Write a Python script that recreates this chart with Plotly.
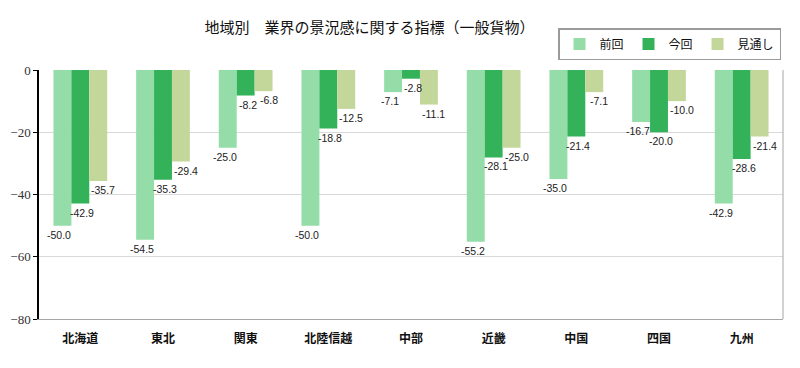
import plotly.graph_objects as go

regions = ["北海道", "東北", "関東", "北陸信越", "中部", "近畿", "中国", "四国", "九州"]
prev_vals = [-50.0, -54.5, -25.0, -50.0, -7.1, -55.2, -35.0, -16.7, -42.9]
curr_vals = [-42.9, -35.3, -8.2, -18.8, -2.8, -28.1, -21.4, -20.0, -28.6]
outlook_vals = [-35.7, -29.4, -6.8, -12.5, -11.1, -25.0, -7.1, -10.0, -21.4]
series_names = ["前回", "今回", "見通し"]
colors = ["#94DDA9", "#33B25A", "#C4D79B"]
y_ticks = [0, -20, -40, -60, -80]

series = [prev_vals, curr_vals, outlook_vals]

# page body has an 8px margin; work in page coordinates and subtract it
OFF = 8
W, H = 800 - OFF, 368 - OFF
L, T = 39 - OFF, 70 - OFF
R = W - (783 - OFF)
B = H - (319 - OFF)
plot_w = W - L - R
plot_h = H - T - B
cat_w = plot_w / len(regions)
bargap = 0.35
bar_w = cat_w * (1 - bargap) / 3

fig = go.Figure()
for name, vals, col in zip(series_names, series, colors):
    fig.add_trace(go.Bar(x=regions, y=vals, name=name, marker=dict(color=col, line=dict(width=0)),
                         hoverinfo="skip"))

label_font = dict(family="Liberation Sans, Arial, sans-serif", size=10.5, color="#222222")
extra_shift = [-3, 2, 5]
annotations = []
for si, vals in enumerate(series):
    for r, v in zip(regions, vals):
        annotations.append(dict(
            x=r, y=v, xref="x", yref="y", text=f"{v:.1f}", showarrow=False,
            xanchor="center", yanchor="top",
            xshift=(si - 1) * bar_w + extra_shift[si], yshift=-1,
            font=label_font))

fig.update_layout(
    width=W, height=H,
    margin=dict(l=L, r=R, t=T, b=B, pad=0, autoexpand=False),
    paper_bgcolor="white", plot_bgcolor="white",
    barmode="group", bargap=bargap, bargroupgap=0,
    title=dict(text="地域別\u3000業界の景況感に関する指標（一般貨物）",
               font=dict(family="Noto Sans CJK JP", size=15, color="#111111"),
               x=(369.5 - OFF) / W, xanchor="center", xref="container",
               y=1 - (27.5 - OFF) / H, yanchor="middle", yref="container"),
    legend=dict(orientation="h", x=(781 - 39) / plot_w, xanchor="right",
                y=(319 - 28) / plot_h, yanchor="top",
                bordercolor="#9a9a9a", borderwidth=1.5, bgcolor="white",
                font=dict(family="Noto Sans CJK JP", size=12, color="#111111"),
                itemwidth=30, traceorder="normal"),
    xaxis=dict(type="category", categoryorder="array", categoryarray=regions,
               range=[-0.5, len(regions) - 0.5],
               showgrid=False, showline=True, linecolor="#a6a6a6", linewidth=1,
               ticks="", ticklabelstandoff=9,
               tickfont=dict(family="Noto Sans CJK JP", size=12, color="#111111", weight="bold")),
    xaxis2=dict(overlaying="x", side="top", anchor="y", range=[-0.5, len(regions) - 0.5],
                tickvals=[i + 0.5 for i in range(len(regions) - 1)],
                ticks="inside", ticklen=4, tickcolor="#a6a6a6", tickwidth=1,
                showticklabels=False, showgrid=False, zeroline=False,
                showline=True, linecolor="#a6a6a6", linewidth=1),
    yaxis=dict(range=[-80, 0], tickvals=y_ticks, showgrid=True, gridcolor="#d9d9d9", gridwidth=1,
               zeroline=False, showline=True, linecolor="#000000", linewidth=1.5,
               ticks="outside", ticklen=4, tickcolor="#000000",
               tickfont=dict(family="Liberation Serif, serif", size=13, color="#333333")),
    annotations=annotations,
    shapes=[dict(type="line", xref="paper", yref="paper", x0=1, x1=1, y0=0, y1=1,
                 line=dict(color="#a6a6a6", width=1))],
    showlegend=True,
)

fig.write_html("out.html")
